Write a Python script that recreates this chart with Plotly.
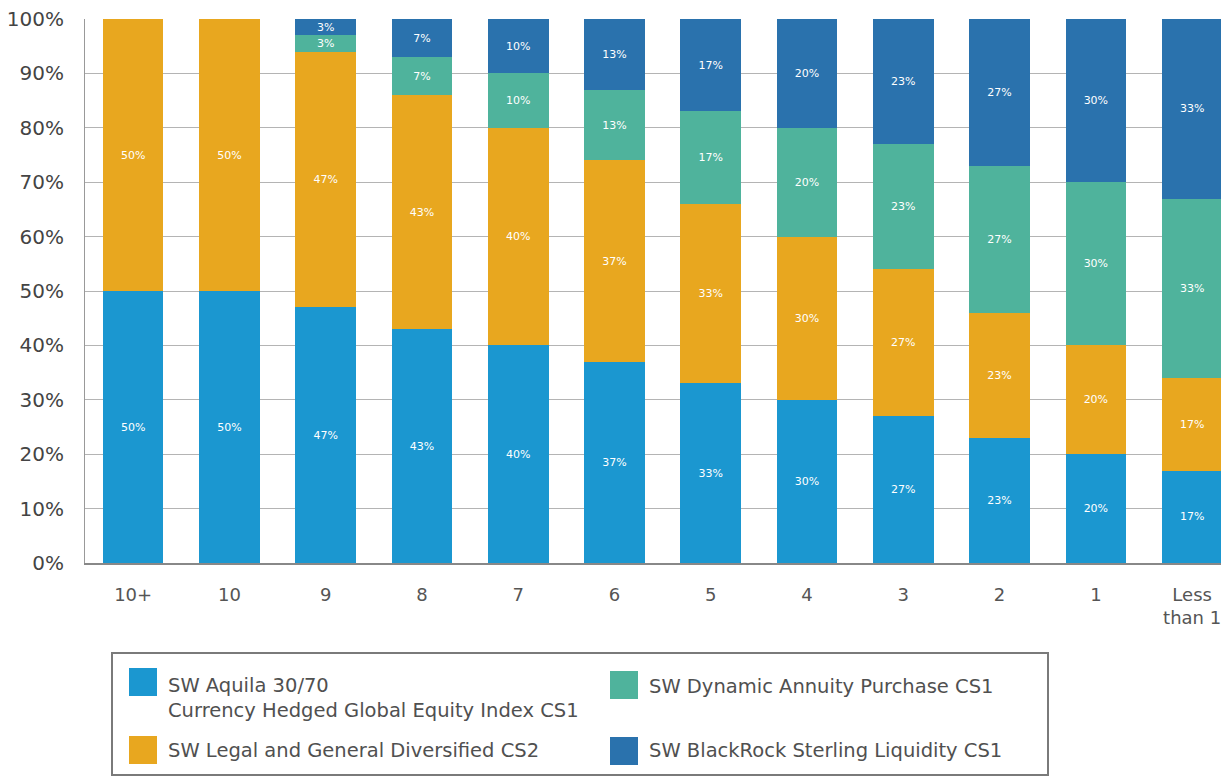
import plotly.graph_objects as go

categories = ["10+", "10", "9", "8", "7", "6", "5", "4", "3", "2", "1", "Less<br>than 1"]
aquila = [50, 50, 47, 43, 40, 37, 33, 30, 27, 23, 20, 17]
legal_general = [50, 50, 47, 43, 40, 37, 33, 30, 27, 23, 20, 17]
dynamic_annuity = [0, 0, 3, 7, 10, 13, 17, 20, 23, 27, 30, 33]
blackrock = [0, 0, 3, 7, 10, 13, 17, 20, 23, 27, 30, 33]

names = [
    "SW Aquila 30/70<br>Currency Hedged Global Equity Index CS1",
    "SW Legal and General Diversified CS2",
    "SW Dynamic Annuity Purchase CS1",
    "SW BlackRock Sterling Liquidity CS1",
]
colors = ["#1b97d0", "#e8a71f", "#4fb39c", "#2a72ad"]
values = [aquila, legal_general, dynamic_annuity, blackrock]

W, H = 1221, 778
L, R, T, B = 85, 0, 19, 215
PW, PH = W - L - R, H - T - B


def px(x):
    return (x - L) / PW


def py(y):
    return (H - B - y) / PH


fig = go.Figure()
for name, vals, color in zip(names, values, colors):
    fig.add_trace(go.Bar(
        x=categories, y=vals, name=name, marker=dict(color=color, line=dict(width=0)),
        text=[f"{v}%" if v > 0 else "" for v in vals],
        textposition="inside", insidetextanchor="middle",
        textfont=dict(color="white", size=11, family="DejaVu Sans"),
        showlegend=False,
    ))

# Legend drawn as a boxed key below the plot
shapes = [dict(type="rect", xref="paper", yref="paper", x0=px(112), x1=px(1048), y0=py(775), y1=py(653),
               line=dict(color="#7a7a7a", width=2), fillcolor="white", layer="above")]
annotations = []
# positions: (swatch left, swatch top, text left, text center y)
legend_pos = [(129, 668, 166, 698), (129, 736, 166, 750), (610, 671, 647, 686), (610, 737, 647, 750)]
for name, color, (sx, sy, tx, ty) in zip(names, colors, legend_pos):
    shapes.append(dict(type="rect", xref="paper", yref="paper", x0=px(sx), x1=px(sx + 28),
                       y0=py(sy + 28), y1=py(sy), line=dict(width=0), fillcolor=color, layer="above"))
    annotations.append(dict(xref="paper", yref="paper", x=px(tx), y=py(ty), text=name,
                            showarrow=False, xanchor="left", yanchor="middle", align="left",
                            font=dict(family="DejaVu Sans", size=19.5, color="#505050")))

fig.update_layout(
    barmode="stack", bargap=0.37,
    width=W, height=H,
    margin=dict(l=L, r=R, t=T, b=B),
    paper_bgcolor="white", plot_bgcolor="white",
    uniformtext=dict(minsize=11, mode="show"),
    font=dict(family="DejaVu Sans", color="#555555", size=18),
    showlegend=False,
    shapes=shapes, annotations=annotations,
    xaxis=dict(range=[-0.5, 11.3], tickfont=dict(size=18, color="#555555"), ticklabelstandoff=14,
               showline=True, linecolor="#888888", linewidth=2, ticks="", showgrid=False),
    yaxis=dict(range=[0, 100], dtick=10, ticksuffix="%", tickfont=dict(size=20, color="#444444"),
               ticklabelstandoff=16,
               showgrid=True, gridcolor="#b4b4b4", gridwidth=1, showline=True,
               linecolor="#999999", linewidth=1, zeroline=False),
)

fig.write_html("out.html")
